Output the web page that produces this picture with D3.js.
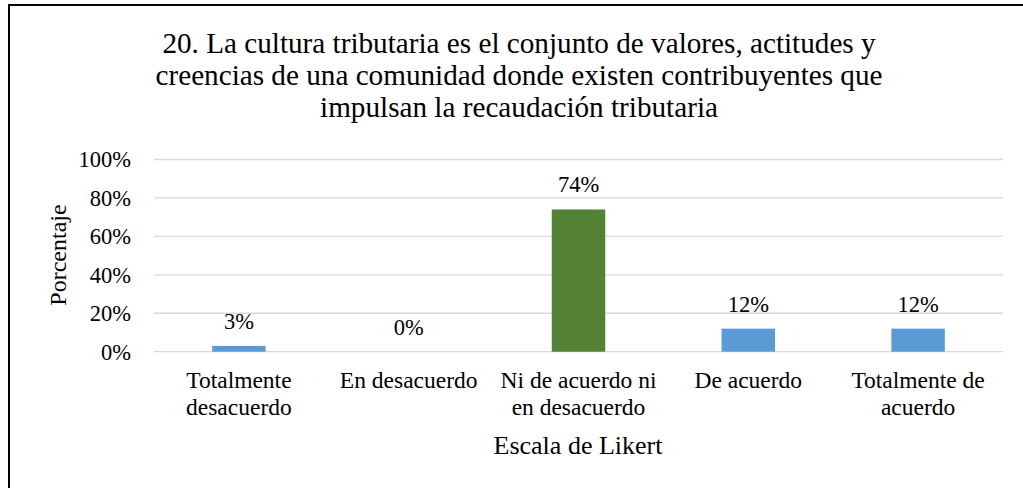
<!DOCTYPE html>
<html>
<head>
<meta charset="utf-8">
<script src="https://cdn.jsdelivr.net/npm/d3@7"></script>
<style>
  body { margin: 0; background: #fff; }
  svg text { font-family: "Liberation Serif", "Times New Roman", Times, serif; fill: #000; }
</style>
</head>
<body>
<div id="chart"></div>
<script>
// data
var categories = [
  ["Totalmente", "desacuerdo"],
  ["En desacuerdo"],
  ["Ni de acuerdo ni", "en desacuerdo"],
  ["De acuerdo"],
  ["Totalmente de", "acuerdo"]
];
var values = [0.03, 0.00, 0.74, 0.12, 0.12];
var labels = ["3%", "0%", "74%", "12%", "12%"];
var barColors = ["#5B9BD5", "#5B9BD5", "#548235", "#5B9BD5", "#5B9BD5"];
var yTicks = [0, 0.2, 0.4, 0.6, 0.8, 1.0];
var titleLines = [
  "20. La cultura tributaria es el conjunto de valores, actitudes y",
  "creencias de una comunidad donde existen contribuyentes que",
  "impulsan la recaudación tributaria"
];

var width = 1023, height = 488;
var svg = d3.select("#chart").append("svg")
    .attr("width", width)
    .attr("height", height);

// frame (only top and left edges fall inside the picture)
svg.append("rect")
    .attr("x", 9).attr("y", 5)
    .attr("width", 1030).attr("height", 500)
    .attr("fill", "none")
    .attr("stroke", "#000")
    .attr("stroke-width", 2);

var x = d3.scaleBand()
    .domain(d3.range(categories.length))
    .range([154, 1003])
    .paddingInner(0.685)
    .paddingOuter(0.3425);

var y = d3.scaleLinear()
    .domain([0, 1])
    .range([351.7, 159.5]);

// gridlines
svg.append("g")
  .selectAll("line")
  .data(yTicks)
  .enter().append("line")
    .attr("x1", 154).attr("x2", 1003)
    .attr("y1", function(d){ return y(d); })
    .attr("y2", function(d){ return y(d); })
    .attr("stroke", "#d9d9d9")
    .attr("stroke-width", 1.3);

// y tick labels
svg.append("g")
  .selectAll("text")
  .data(yTicks)
  .enter().append("text")
    .attr("x", 131)
    .attr("y", function(d){ return y(d); })
    .attr("dy", "0.35em")
    .attr("text-anchor", "end")
    .style("font-size", "22.5px")
    .text(function(d){ return Math.round(d * 100) + "%"; });

// bars
svg.append("g")
  .selectAll("rect")
  .data(values)
  .enter().append("rect")
    .attr("x", function(d, i){ return x(i); })
    .attr("width", x.bandwidth())
    .attr("y", function(d){ return y(d); })
    .attr("height", function(d){ return y(0) - y(d); })
    .attr("fill", function(d, i){ return barColors[i]; });

// data labels
svg.append("g")
  .selectAll("text")
  .data(values)
  .enter().append("text")
    .attr("x", function(d, i){ return x(i) + x.bandwidth() / 2; })
    .attr("y", function(d){ return y(d) - 17; })
    .attr("text-anchor", "middle")
    .style("font-size", "22.5px")
    .text(function(d, i){ return labels[i]; });

// category labels
var cat = svg.append("g")
  .selectAll("text")
  .data(categories)
  .enter().append("text")
    .attr("text-anchor", "middle")
    .style("font-size", "23.5px");
cat.selectAll("tspan")
  .data(function(d, i){ return d.map(function(t){ return {t: t, i: i}; }); })
  .enter().append("tspan")
    .attr("x", function(d){ return x(d.i) + x.bandwidth() / 2; })
    .attr("y", function(d, j){ return 388 + j * 27; })
    .text(function(d){ return d.t; });

// axis titles
svg.append("text")
    .attr("x", 578).attr("y", 454)
    .attr("text-anchor", "middle")
    .style("font-size", "26px")
    .text("Escala de Likert");

svg.append("text")
    .attr("transform", "translate(65.5,255) rotate(-90)")
    .attr("text-anchor", "middle")
    .style("font-size", "24px")
    .text("Porcentaje");

// title
svg.append("g")
  .selectAll("text")
  .data(titleLines)
  .enter().append("text")
    .attr("x", 519)
    .attr("y", function(d, i){ return 53.3 + i * 31.7; })
    .attr("text-anchor", "middle")
    .style("font-size", "29.2px")
    .text(function(d){ return d; });
</script>
</body>
</html>
